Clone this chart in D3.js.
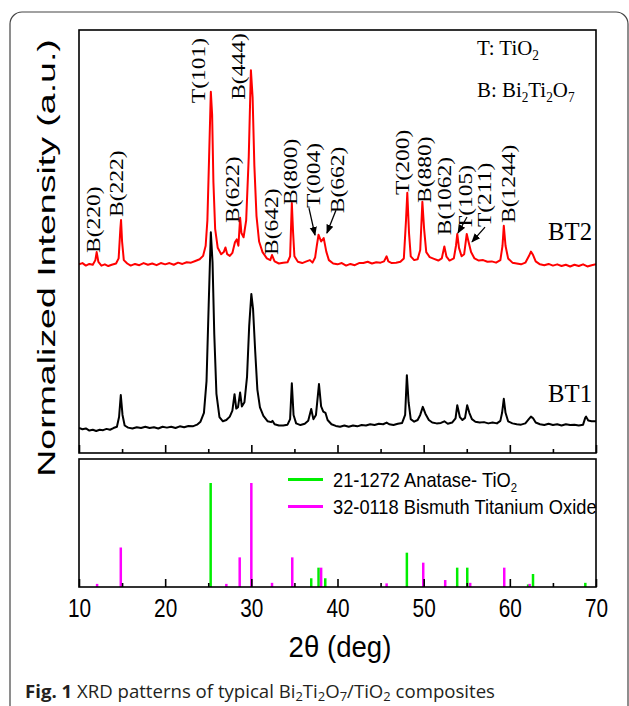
<!DOCTYPE html>
<html>
<head>
<meta charset="utf-8">
<script src="https://cdn.jsdelivr.net/npm/d3@7"></script>
<style>
  body { margin: 0; background: #fff; }
  svg { display: block; }
</style>
</head>
<body>
<div id="chart"></div>
<script>
// BT2 pattern (2theta, normalized intensity incl. offset)
let bt2 = [[10.0,44.6],[10.4,44.9],[10.8,44.3],[11.2,44.7],[11.6,44.5],[11.9,45.6],[12.05,47.5],[12.25,45.2],[12.6,44.3],[13.0,44.6],[13.4,44.2],[13.8,44.5],[14.3,44.8],[14.6,46],[14.8,53],[14.88,55.1],[15.0,50],[15.2,45.6],[15.6,44.8],[16.0,44.3],[16.5,44.7],[17.0,44.4],[17.5,44.9],[18.0,44.5],[18.5,44.8],[19.0,44.4],[19.5,44.9],[20.0,44.6],[20.5,44.9],[21.0,44.5],[21.5,45],[22.0,44.7],[22.5,45.1],[23.0,45],[23.5,45.4],[24.0,45.8],[24.4,46.6],[24.7,49],[24.9,55],[25.1,70],[25.3,85.4],[25.45,80],[25.6,64],[25.8,53],[26.1,48.5],[26.5,47],[26.8,47.5],[27.0,48.6],[27.2,47],[27.5,46.6],[27.8,47.3],[28.1,49.8],[28.3,50.5],[28.5,49],[28.7,55.6],[28.85,52],[29.1,51],[29.4,55],[29.7,70],[29.95,90.5],[30.15,84],[30.35,68],[30.6,56],[30.9,50],[31.3,47.5],[31.8,46],[32.2,45.6],[32.4,46.8],[32.7,45.3],[33.2,44.8],[33.7,45],[34.2,45.1],[34.5,46.5],[34.7,59.1],[34.85,52],[35.0,46.5],[35.4,45.2],[35.9,44.9],[36.4,45.3],[36.8,45.6],[37.1,45],[37.4,46.2],[37.6,49],[37.8,51.6],[38.1,50],[38.4,50.8],[38.7,47.6],[39.0,45.6],[39.5,44.8],[40.0,44.6],[40.5,44.9],[41.0,44.3],[41.5,44.7],[42.0,44.4],[42.5,44.9],[43.0,44.9],[43.5,45.2],[44.0,44.8],[44.5,45.1],[45.0,45],[45.4,45.3],[45.7,46.5],[45.9,45.3],[46.3,44.9],[46.8,45],[47.3,45.2],[47.7,46],[47.95,55],[48.1,61.5],[48.3,52],[48.5,46.5],[48.9,45.6],[49.3,45.8],[49.6,48],[49.85,59.4],[50.05,53],[50.3,47.5],[50.7,46.3],[51.2,45.9],[51.7,45.5],[52.1,46],[52.4,48.8],[52.65,46.4],[53.0,45.5],[53.5,46],[53.75,49],[53.9,51.8],[54.1,48.5],[54.4,46.5],[54.7,47],[55.0,51.8],[55.2,50],[55.5,47.5],[55.9,46],[56.4,45.5],[56.9,45.6],[57.4,45.2],[57.9,45.3],[58.4,45],[58.9,45.6],[59.15,49],[59.3,53.7],[59.5,49],[59.8,46],[60.3,45],[60.8,44.8],[61.3,44.6],[61.8,45],[62.2,46.5],[62.45,47.6],[62.7,46.8],[63.0,45.3],[63.5,44.6],[64.0,44.4],[64.5,44.7],[65.0,44.3],[65.5,44.6],[66.0,44.2],[66.5,44.5],[67.0,44.1],[67.5,44.5],[68.0,44.2],[68.5,44.6],[69.0,44.1],[69.5,44.4],[70.0,44.6]]

// BT1 pattern
let bt1 = [[10.0,5.9],[10.4,5.6],[10.8,5.8],[11.2,5.3],[11.6,5.5],[12.0,5.2],[12.4,5.5],[12.8,5.4],[13.2,5.7],[13.6,5.5],[14.0,5.9],[14.4,6.2],[14.65,8.5],[14.85,13.7],[15.05,9],[15.3,6.5],[15.7,6],[16.2,5.8],[16.7,6.1],[17.2,5.9],[17.7,6.2],[18.2,5.9],[18.7,6.1],[19.2,5.8],[19.7,6.2],[20.2,6],[20.7,6.2],[21.2,5.9],[21.7,6.3],[22.2,6.1],[22.7,6.4],[23.2,6.3],[23.7,6.7],[24.1,7.4],[24.5,9.5],[24.8,17],[25.05,35],[25.3,52.2],[25.5,45],[25.7,28],[25.95,14],[26.3,8.5],[26.7,7.5],[27.1,7.8],[27.5,8.6],[27.8,10],[28.05,13.9],[28.25,10.5],[28.45,10.8],[28.7,14.3],[28.9,11],[29.2,12],[29.5,18],[29.75,30],[30.0,37.6],[30.2,34],[30.45,24],[30.7,15],[31.0,10.8],[31.4,8.8],[31.9,7.5],[32.3,7.3],[32.45,7.6],[32.7,6.8],[33.2,6.5],[33.7,6.5],[34.2,6.7],[34.5,8],[34.7,16.5],[34.9,9],[35.2,7],[35.7,6.6],[36.2,6.9],[36.6,7.6],[36.95,10.4],[37.2,8],[37.5,9],[37.85,16.3],[38.1,11],[38.35,9.8],[38.6,9.5],[38.85,7.8],[39.3,6.8],[39.8,6.4],[40.3,6.2],[40.8,6.5],[41.3,6.2],[41.8,6.5],[42.3,6.3],[42.8,6.6],[43.3,6.5],[43.8,6.8],[44.3,6.6],[44.8,6.9],[45.3,6.8],[45.7,7.2],[46.0,6.8],[46.5,6.6],[47.0,6.9],[47.5,7.1],[47.85,9],[48.05,18.4],[48.25,12],[48.5,8],[48.9,7.4],[49.3,7.8],[49.6,9],[49.9,10.9],[50.2,9.3],[50.6,7.8],[51.0,7.2],[51.5,7],[52.0,7.1],[52.4,7.5],[52.8,6.9],[53.3,7.2],[53.7,8.2],[53.9,11.3],[54.2,8.5],[54.5,7.8],[54.8,8.3],[55.05,11.3],[55.3,9.5],[55.6,8],[56.0,7.4],[56.5,7.2],[57.0,7.3],[57.5,7],[58.0,7.2],[58.5,7],[58.9,7.6],[59.1,9.5],[59.3,12.8],[59.5,9.5],[59.8,7.5],[60.3,7],[60.8,6.8],[61.3,6.7],[61.8,7],[62.2,8],[62.45,8.6],[62.7,8.2],[63.0,7.2],[63.5,6.8],[64.0,6.6],[64.5,6.9],[65.0,6.6],[65.5,6.8],[66.0,6.5],[66.5,6.8],[67.0,6.6],[67.5,6.7],[68.0,6.5],[68.5,6.7],[68.75,8.3],[68.85,8.6],[69.1,7.7],[69.5,7.5],[70.0,7.5]]

// reference cards (2theta, relative intensity %)
let anatase = [[25.28,100],[36.95,8.4],[37.8,18.6],[38.58,8.4],[48.05,33],[53.89,18.6],[55.06,18.6],[62.12,2.5],[62.69,12.5],[68.76,4]]
let bismuth = [[12.1,3],[14.85,38],[27.1,3],[28.65,28.5],[30.0,100],[32.4,4],[34.75,28.5],[38.1,18.6],[45.7,3.5],[49.95,23.4],[52.5,6.7],[55.4,4],[59.35,18.6],[62.3,3]]

// peak labels: text, 2theta, intensity where label starts
let peakLabels = [['B(220)',11.86,47.3],['B(222)',14.56,55.8],['T(101)',24.04,82.7],['B(622)',27.99,54.4],['B(444)',28.68,83.5],['B(642)',32.51,46.8],['B(800)',34.8,58.6],['T(004)',37.39,57.9],['B(662)',40.17,56.7],['T(200)',47.72,61.0],['B(880)',50.35,59.1],['B(1062)',52.59,51.5],['T(105)',55.03,52.7],['T(211)',57.23,53.4],['B(1244)',60.02,54.4]]
let arrows = [[36.69,57.9,37.39,51.5],[39.82,57.4,38.77,52.0],[55.03,55.8,53.98,52.0],[57.12,53.4,55.61,49.9]]

let majorTicks = [10, 20, 30, 40, 50, 60, 70]
let minorTicks = [15, 25, 35, 45, 55, 65]
let legendItems = [['21-1272 Anatase- TiO', '2', '#00ee00'], ['32-0118 Bismuth Titanium Oxide', '', '#ff00ff']]

let serif = "'Liberation Serif','Times New Roman',serif"
let sans = "'Liberation Sans',Arial,sans-serif"

let svg = d3.select('#chart').append('svg').attr('width', 629).attr('height', 706)
svg.append('rect').attr('width', 629).attr('height', 706).attr('fill', '#fff')

let xScale = d3.scaleLinear().domain([10, 70]).range([79, 596])
let yTop = d3.scaleLinear().domain([0, 100]).range([453, 30])
let yBot = d3.scaleLinear().domain([0, 100]).range([587, 483])

// outer figure frame
svg.append('path')
  .attr('d', 'M10,706 V24 A12,12 0 0 1 22,12 H616 A12,12 0 0 1 628,24 V706')
  .attr('fill', 'none').attr('stroke', '#444').attr('stroke-width', 1.2)

let defs = svg.append('defs')
defs.append('clipPath').attr('id', 'clipTop')
  .append('rect').attr('x', 79).attr('y', 30).attr('width', 517).attr('height', 423)

let marker = defs.append('marker')
  .attr('id', 'arrow').attr('viewBox', '0 0 10 10').attr('refX', 9).attr('refY', 5)
  .attr('markerWidth', 7).attr('markerHeight', 7).attr('orient', 'auto')
marker.append('path').attr('d', 'M0,1 L10,5 L0,9 Z').attr('fill', '#000')

function txt(g, str, x, y, size, sx, rot, family, anchor) {
  return g.append('text')
    .attr('transform', 'translate(' + x + ',' + y + ') scale(' + sx + ',1) rotate(' + rot + ')')
    .attr('font-size', size).attr('font-family', family)
    .attr('text-anchor', anchor || 'start')
    .text(str)
}

// top panel lines
let line = d3.line().x(d => xScale(d[0])).y(d => yTop(d[1]))
let topG = svg.append('g').attr('clip-path', 'url(#clipTop)')
topG.append('path').datum(bt1).attr('d', line)
  .attr('fill', 'none').attr('stroke', '#000').attr('stroke-width', 2).attr('stroke-linejoin', 'round')
topG.append('path').datum(bt2).attr('d', line)
  .attr('fill', 'none').attr('stroke', '#ff0000').attr('stroke-width', 2).attr('stroke-linejoin', 'round')

// peak labels
peakLabels.forEach(d => {
  txt(svg, d[0], xScale(d[1]) + 4.7, yTop(d[2]), 23.5, 0.8, -90, serif)
})
arrows.forEach(d => {
  svg.append('line')
    .attr('x1', xScale(d[0])).attr('y1', yTop(d[1]))
    .attr('x2', xScale(d[2])).attr('y2', yTop(d[3]))
    .attr('stroke', '#000').attr('stroke-width', 1.3)
    .attr('marker-end', 'url(#arrow)')
})

// sample names
txt(svg, 'BT2', 592, 240, 26, 0.95, 0, serif, 'end')
txt(svg, 'BT1', 592, 402, 26, 0.95, 0, serif, 'end')

// phase key
let k1 = txt(svg, 'T: TiO', 477, 55, 22, 0.95, 0, serif)
k1.append('tspan').attr('font-size', 14).attr('dy', 5).text('2')
let k2 = svg.append('text')
  .attr('transform', 'translate(477,97) scale(0.95,1)')
  .attr('font-size', 22).attr('font-family', serif)
k2.append('tspan').text('B: Bi')
k2.append('tspan').attr('font-size', 14).attr('dy', 5).text('2')
k2.append('tspan').attr('dy', -5).text('Ti')
k2.append('tspan').attr('font-size', 14).attr('dy', 5).text('2')
k2.append('tspan').attr('dy', -5).text('O')
k2.append('tspan').attr('font-size', 14).attr('dy', 5).text('7')

// bottom panel sticks
svg.selectAll('.ana').data(anatase).enter().append('line').attr('class', 'ana')
  .attr('x1', d => xScale(d[0])).attr('x2', d => xScale(d[0]))
  .attr('y1', yBot(0)).attr('y2', d => yBot(d[1]))
  .attr('stroke', '#00ee00').attr('stroke-width', 2.5)
svg.selectAll('.bis').data(bismuth).enter().append('line').attr('class', 'bis')
  .attr('x1', d => xScale(d[0])).attr('x2', d => xScale(d[0]))
  .attr('y1', yBot(0)).attr('y2', d => yBot(d[1]))
  .attr('stroke', '#ff00ff').attr('stroke-width', 2.5)

// bottom legend
legendItems.forEach((d, i) => {
  let yy = 479.5 + i * 27
  svg.append('line').attr('x1', 288).attr('x2', 323).attr('y1', yy).attr('y2', yy)
    .attr('stroke', d[2]).attr('stroke-width', 3)
  let t = txt(svg, d[0], 333, yy + 7.5, 21, 0.87, 0, sans)
  if (d[1]) t.append('tspan').attr('font-size', 13).attr('dy', 5).text(d[1])
})

// axes (inward ticks)
function ticks(yPos, labels) {
  let major = d3.axisBottom(xScale).tickValues(majorTicks).tickSize(-8)
    .tickFormat(labels ? d3.format('d') : '')
  let minor = d3.axisBottom(xScale).tickValues(minorTicks).tickSize(-4).tickFormat('')
  let g1 = svg.append('g').attr('transform', 'translate(0,' + yPos + ')').call(major)
  let g2 = svg.append('g').attr('transform', 'translate(0,' + yPos + ')').call(minor)
  ;[g1, g2].forEach(g => {
    g.select('.domain').remove()
    g.selectAll('line').attr('stroke', '#000').attr('stroke-width', 1.6)
  })
  g1.selectAll('text')
    .attr('y', 30).attr('dy', 0)
    .attr('transform', 'scale(0.8,1)')
    .attr('font-size', 26).attr('font-family', sans).attr('fill', '#000')
}
ticks(453, false)
ticks(587, true)

// panel frames
svg.append('rect').attr('x', 79).attr('y', 30).attr('width', 517).attr('height', 423)
  .attr('fill', 'none').attr('stroke', '#000').attr('stroke-width', 1.6)
svg.append('rect').attr('x', 79).attr('y', 459).attr('width', 517).attr('height', 128)
  .attr('fill', 'none').attr('stroke', '#000').attr('stroke-width', 1.6)

// axis titles
txt(svg, 'Normalized Intensity (a.u.)', 55, 258, 37.5, 0.66, -90, sans, 'middle')
txt(svg, '2\u03b8 (deg)', 340, 657, 30, 0.92, 0, sans, 'middle')

// caption
let cap = svg.append('text').attr('x', 25).attr('y', 698)
  .attr('font-family', "'Open Sans',sans-serif").attr('font-size', 18.6).attr('fill', '#231f20')
cap.append('tspan').attr('font-weight', 'bold').text('Fig. 1')
cap.append('tspan').text(' XRD patterns of typical Bi')
cap.append('tspan').attr('font-size', 13).attr('dy', 3).text('2')
cap.append('tspan').attr('dy', -3).text('Ti')
cap.append('tspan').attr('font-size', 13).attr('dy', 3).text('2')
cap.append('tspan').attr('dy', -3).text('O')
cap.append('tspan').attr('font-size', 13).attr('dy', 3).text('7')
cap.append('tspan').attr('dy', -3).text('/TiO')
cap.append('tspan').attr('font-size', 13).attr('dy', 3).text('2')
cap.append('tspan').attr('dy', -3).text(' composites')
</script>
</body>
</html>
